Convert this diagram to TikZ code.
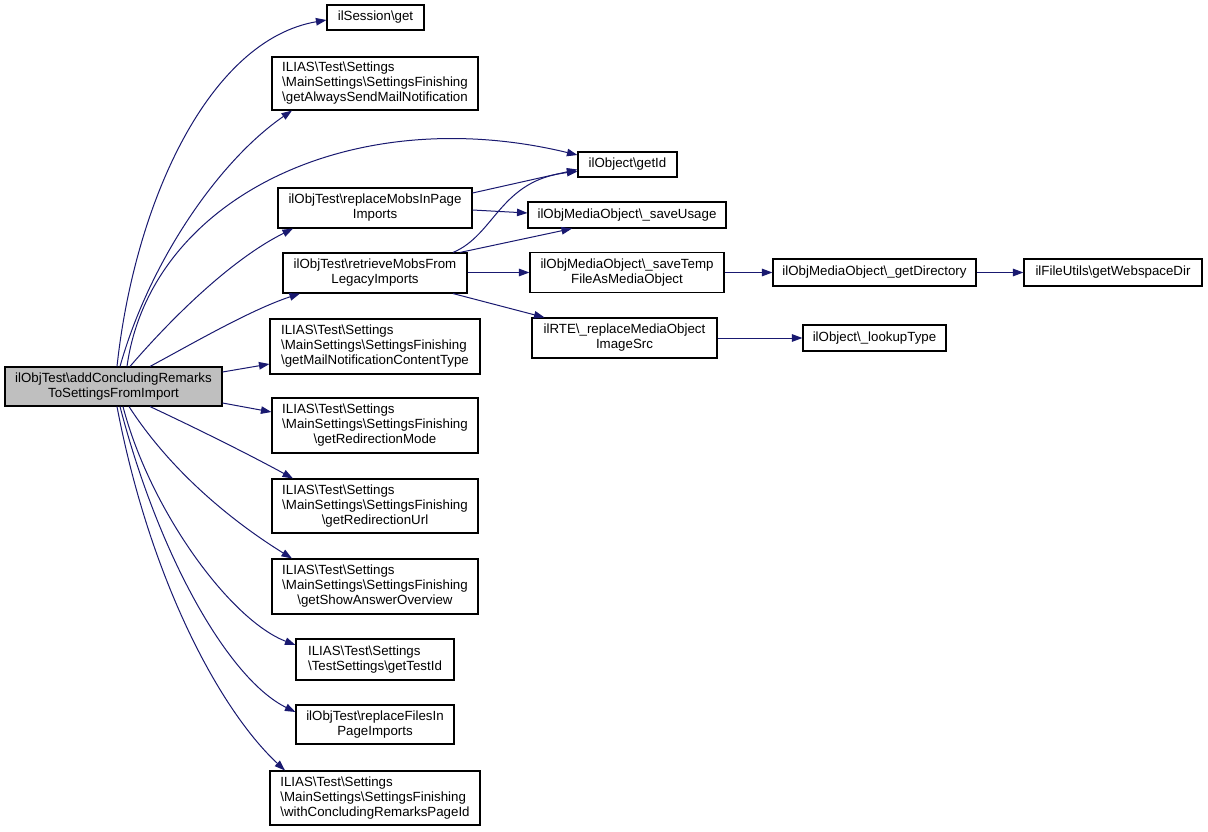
\documentclass[tikz,border=0pt]{standalone}
\usepackage{fontspec}
\setmainfont{Liberation Sans}
\usetikzlibrary{arrows.meta}
\definecolor{edgec}{HTML}{191970}
\definecolor{maingray}{HTML}{BFBFBF}
\newcommand{\bs}{\textbackslash}
\newcommand{\threel}[3]{\begin{tabular}{@{}l@{}}#1\\#2\\\multicolumn{1}{@{}c@{}}{#3}\end{tabular}}
\newcommand{\twol}[2]{\begin{tabular}{@{}c@{}}#1\\#2\end{tabular}}
\newcommand{\twoleft}[2]{\begin{tabular}{@{}l@{}}#1\\#2\end{tabular}}
\begin{document}
\begin{tikzpicture}[x=1pt,y=-1pt,
  box/.style={draw=black, line width=1.1pt, fill=white, inner sep=0pt,
    font=\fontsize{13.3}{15}\selectfont},
  sz/.style 2 args={minimum width=#1pt, minimum height=#2pt},
  edge/.style={draw=edgec, line width=1pt, -{Triangle[length=10.5pt,width=7.5pt]}}]
\useasboundingbox[fill=white] (0,0) rectangle (1208,832);

\node[box, sz={217}{39}, fill=maingray] (main) at (113.5,386.5)
  {\twol{ilObjTest\bs addConcludingRemarks}{ToSettingsFromImport}};
\node[box, sz={97}{25}] (ilSession) at (375.5,17.5) {ilSession\bs get};
\node[box, sz={206}{53}] (getAlways) at (375,83.5)
  {\threel{ILIAS\bs Test\bs Settings}{\bs MainSettings\bs SettingsFinishing}{\bs getAlwaysSendMailNotification}};
\node[box, sz={99}{25}] (getId) at (627.5,164.5) {ilObject\bs getId};
\node[box, sz={194}{40}] (replaceMobs) at (375,208)
  {\twol{ilObjTest\bs replaceMobsInPage}{Imports}};
\node[box, sz={198}{26}] (saveUsage) at (627,215) {ilObjMediaObject\bs\_saveUsage};
\node[box, sz={184}{40}] (retrieveMobs) at (375,273)
  {\twol{ilObjTest\bs retrieveMobsFrom}{LegacyImports}};
\node[box, sz={194}{40}] (saveTemp) at (627,272.5)
  {\twol{ilObjMediaObject\bs\_saveTemp}{FileAsMediaObject}};
\node[box, sz={203}{27}] (getDirectory) at (874.5,272.5) {ilObjMediaObject\bs\_getDirectory};
\node[box, sz={178}{27}] (getWebspace) at (1113,272.5) {ilFileUtils\bs getWebspaceDir};
\node[box, sz={185}{40}] (ilRTE) at (624.5,338)
  {\twol{ilRTE\bs\_replaceMediaObject}{ImageSrc}};
\node[box, sz={143}{26}] (lookupType) at (874.5,338) {ilObject\bs\_lookupType};
\node[box, sz={210}{55}] (getMail) at (375,346.5)
  {\threel{ILIAS\bs Test\bs Settings}{\bs MainSettings\bs SettingsFinishing}{\bs getMailNotificationContentType}};
\node[box, sz={206}{55}] (getRedMode) at (375,425.5)
  {\threel{ILIAS\bs Test\bs Settings}{\bs MainSettings\bs SettingsFinishing}{\bs getRedirectionMode}};
\node[box, sz={206}{54}] (getRedUrl) at (375,506)
  {\threel{ILIAS\bs Test\bs Settings}{\bs MainSettings\bs SettingsFinishing}{\bs getRedirectionUrl}};
\node[box, sz={206}{55}] (getShowAns) at (375,586.5)
  {\threel{ILIAS\bs Test\bs Settings}{\bs MainSettings\bs SettingsFinishing}{\bs getShowAnswerOverview}};
\node[box, sz={158}{41}] (getTestId) at (375,659.5)
  {\twoleft{ILIAS\bs Test\bs Settings}{\bs TestSettings\bs getTestId}};
\node[box, sz={158}{39}] (replaceFiles) at (375,724.5)
  {\twol{ilObjTest\bs replaceFilesIn}{PageImports}};
\node[box, sz={210}{54}] (withConcl) at (375,798)
  {\threel{ILIAS\bs Test\bs Settings}{\bs MainSettings\bs SettingsFinishing}{\bs withConcludingRemarksPageId}};

% edges from main
\draw[edge] ([xshift=3.5pt]main.north) .. controls (135,200) and (210,40) .. ([yshift=-2.5pt]ilSession.west);
\draw[edge] ([xshift=6.5pt]main.north) .. controls (150,260) and (220,160) .. ([xshift=-83pt]getAlways.south);
\draw[edge] ([xshift=13.5pt]main.north) .. controls (150,200) and (350,100) .. ([yshift=9.5pt]getId.west);
\draw[edge] ([xshift=16.5pt]main.north) .. controls (170,320) and (230,260) .. ([xshift=-82pt]replaceMobs.south);
\draw[edge] ([xshift=36.5pt]main.north) .. controls (190,345) and (250,310) .. ([xshift=-75pt]retrieveMobs.south);
\draw[edge] ([yshift=14.5pt]main.east) -- ([yshift=-17.5pt]getMail.west);
\draw[edge] ([yshift=-16.5pt]main.east) -- ([yshift=13.5pt]getRedMode.west);
\draw[edge] ([xshift=36.5pt]main.south) .. controls (200,430) and (250,455) .. ([xshift=-82pt]getRedUrl.north);
\draw[edge] ([xshift=15.5pt]main.south) .. controls (170,470) and (230,520) .. ([xshift=-83pt]getShowAns.north);
\draw[edge] ([xshift=9.5pt]main.south) .. controls (150,510) and (230,620) .. ([yshift=14.5pt]getTestId.west);
\draw[edge] ([xshift=6.5pt]main.south) .. controls (160,560) and (230,680) .. ([yshift=12.5pt]replaceFiles.west);
\draw[edge] ([xshift=3.5pt]main.south) .. controls (150,580) and (220,710) .. ([xshift=-90pt]withConcl.north);

% other edges
\draw[edge] ([yshift=15pt]replaceMobs.east) -- ([yshift=-5pt]getId.west);
\draw[edge] ([yshift=-2pt]replaceMobs.east) -- ([yshift=2pt]saveUsage.west);
\draw[edge] ([xshift=78pt]retrieveMobs.north) .. controls (495,235) and (500,180) .. ([yshift=-7pt]getId.west);
\draw[edge] ([xshift=85pt]retrieveMobs.north) -- ([xshift=-55pt]saveUsage.south);
\draw[edge] ([yshift=0.5pt]retrieveMobs.east) -- (saveTemp.west);
\draw[edge] ([xshift=78pt]retrieveMobs.south) -- ([xshift=-80pt]ilRTE.north);
\draw[edge] (saveTemp.east) -- (getDirectory.west);
\draw[edge] (getDirectory.east) -- (getWebspace.west);
\draw[edge] (ilRTE.east) -- (lookupType.west);
\end{tikzpicture}
\end{document}
